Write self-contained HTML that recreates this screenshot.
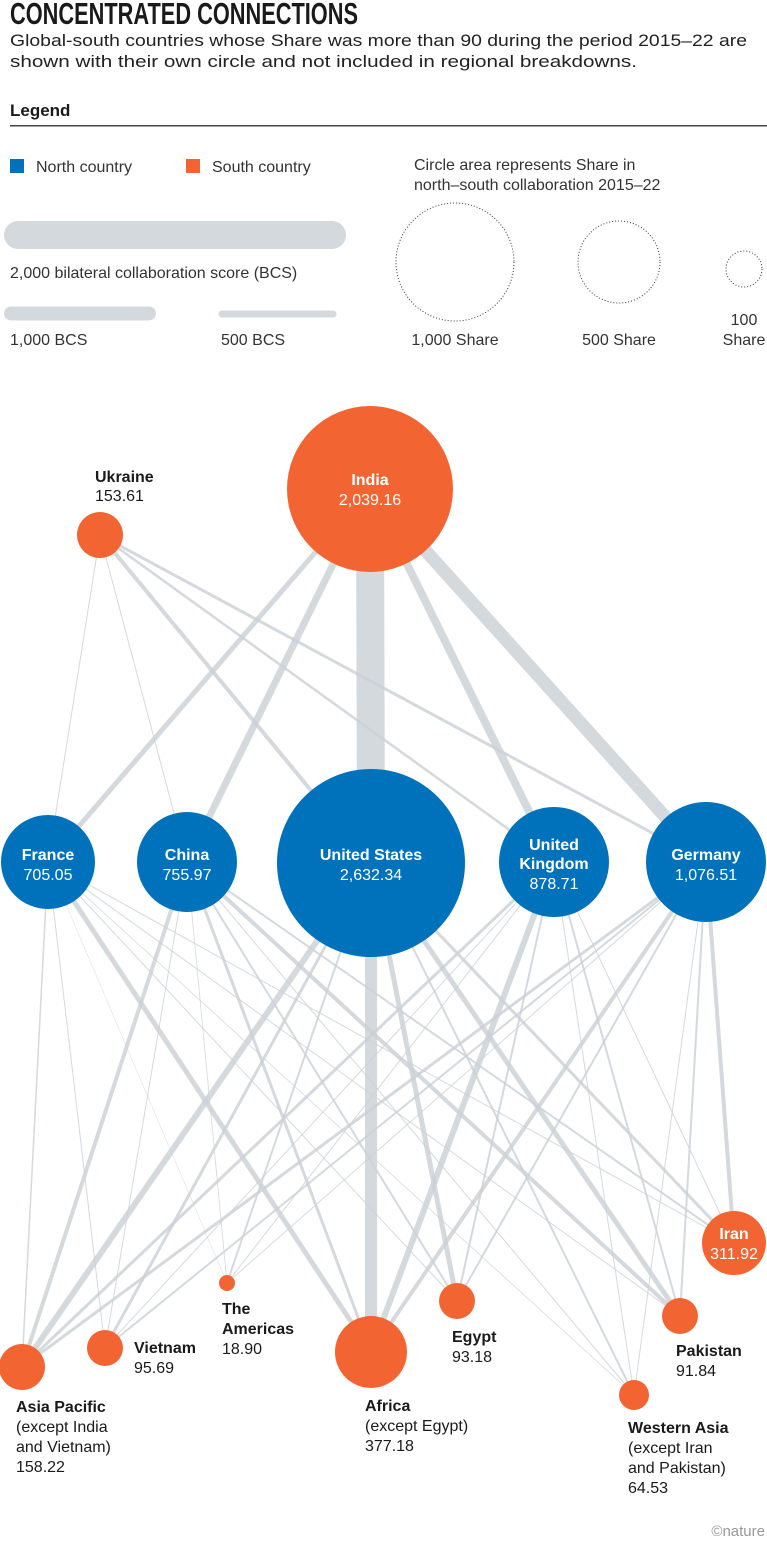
<!DOCTYPE html>
<html><head><meta charset="utf-8"><style>
html,body{margin:0;padding:0;background:#fff;}
svg{display:block;font-family:"Liberation Sans",sans-serif;}
.b{font-weight:bold}
</style></head><body>
<svg width="767" height="1547" viewBox="0 0 767 1547" xmlns="http://www.w3.org/2000/svg">
<text x="10" y="24" font-family="'Liberation Sans Narrow','Liberation Sans',sans-serif" font-weight="bold" font-size="31" textLength="348" lengthAdjust="spacingAndGlyphs" fill="#1a1a1a">CONCENTRATED CONNECTIONS</text>
<text x="10" y="46" font-size="17" fill="#222" textLength="737" lengthAdjust="spacingAndGlyphs">Global-south countries whose Share was more than 90 during the period 2015–22 are</text>
<text x="10" y="67" font-size="17" fill="#222" textLength="627" lengthAdjust="spacingAndGlyphs">shown with their own circle and not included in regional breakdowns.</text>
<text x="10" y="116" font-size="17" class="b" fill="#1a1a1a">Legend</text>
<rect x="10" y="125" width="757" height="1.5" fill="#444"/>
<rect x="10" y="159" width="14" height="14" fill="#0072BC"/>
<text x="36" y="172" font-size="16" fill="#333">North country</text>
<rect x="186" y="159" width="14" height="14" fill="#F26532"/>
<text x="212" y="172" font-size="16" fill="#333">South country</text>
<text x="414" y="170" font-size="16" fill="#333">Circle area represents Share in</text>
<text x="414" y="190" font-size="16" fill="#333">north–south collaboration 2015–22</text>
<line x1="18" y1="235" x2="332" y2="235" stroke="#d4d9dd" stroke-width="28" stroke-linecap="round"/>
<text x="10" y="278" font-size="16" fill="#333">2,000 bilateral collaboration score (BCS)</text>
<line x1="11" y1="313.5" x2="149" y2="313.5" stroke="#d4d9dd" stroke-width="14" stroke-linecap="round"/>
<line x1="222" y1="314" x2="333" y2="314" stroke="#d4d9dd" stroke-width="7" stroke-linecap="round"/>
<text x="10" y="345" font-size="16" fill="#333">1,000 BCS</text>
<text x="221" y="345" font-size="16" fill="#333">500 BCS</text>
<g fill="none" stroke="#333" stroke-width="1" stroke-dasharray="1,2">
<circle cx="455" cy="262" r="59"/><circle cx="619" cy="262" r="41"/><circle cx="744" cy="269" r="18"/></g>
<text x="455" y="345" font-size="16" fill="#333" text-anchor="middle">1,000 Share</text>
<text x="619" y="345" font-size="16" fill="#333" text-anchor="middle">500 Share</text>
<text x="744" y="325" font-size="16" fill="#333" text-anchor="middle">100</text>
<text x="744" y="345" font-size="16" fill="#333" text-anchor="middle">Share</text>

<g stroke="#c9d0d6" stroke-opacity="0.8" stroke-linecap="butt">
<line x1="370" y1="489" x2="371" y2="863" stroke-width="28"/>
<line x1="370" y1="489" x2="706" y2="862" stroke-width="13"/>
<line x1="370" y1="489" x2="554" y2="862" stroke-width="8"/>
<line x1="370" y1="489" x2="187" y2="862" stroke-width="7"/>
<line x1="370" y1="489" x2="48" y2="862" stroke-width="5"/>
<line x1="100" y1="535" x2="48" y2="862" stroke-width="1"/>
<line x1="100" y1="535" x2="187" y2="862" stroke-width="1"/>
<line x1="100" y1="535" x2="371" y2="863" stroke-width="4"/>
<line x1="100" y1="535" x2="554" y2="862" stroke-width="2.5"/>
<line x1="100" y1="535" x2="706" y2="862" stroke-width="3"/>
<line x1="48" y1="862" x2="22" y2="1367" stroke-width="1.5"/>
<line x1="48" y1="862" x2="105" y2="1348" stroke-width="1"/>
<line x1="48" y1="862" x2="371" y2="1352" stroke-width="5"/>
<line x1="48" y1="862" x2="680" y2="1316" stroke-width="1"/>
<line x1="48" y1="862" x2="734" y2="1243" stroke-width="1"/>
<line x1="48" y1="862" x2="457" y2="1301" stroke-width="1"/>
<line x1="48" y1="862" x2="634" y2="1395" stroke-width="0.8"/>
<line x1="48" y1="862" x2="227" y2="1283" stroke-width="0.5"/>
<line x1="187" y1="862" x2="22" y2="1367" stroke-width="4"/>
<line x1="187" y1="862" x2="105" y2="1348" stroke-width="1"/>
<line x1="187" y1="862" x2="371" y2="1352" stroke-width="3"/>
<line x1="187" y1="862" x2="734" y2="1243" stroke-width="2"/>
<line x1="187" y1="862" x2="680" y2="1316" stroke-width="4"/>
<line x1="187" y1="862" x2="457" y2="1301" stroke-width="2"/>
<line x1="187" y1="862" x2="634" y2="1395" stroke-width="1"/>
<line x1="187" y1="862" x2="227" y2="1283" stroke-width="0.8"/>
<line x1="371" y1="863" x2="22" y2="1367" stroke-width="6"/>
<line x1="371" y1="863" x2="105" y2="1348" stroke-width="3"/>
<line x1="371" y1="863" x2="371" y2="1352" stroke-width="12"/>
<line x1="371" y1="863" x2="734" y2="1243" stroke-width="3"/>
<line x1="371" y1="863" x2="680" y2="1316" stroke-width="5"/>
<line x1="371" y1="863" x2="457" y2="1301" stroke-width="5"/>
<line x1="371" y1="863" x2="634" y2="1395" stroke-width="2"/>
<line x1="371" y1="863" x2="227" y2="1283" stroke-width="2"/>
<line x1="554" y1="862" x2="22" y2="1367" stroke-width="3"/>
<line x1="554" y1="862" x2="105" y2="1348" stroke-width="1"/>
<line x1="554" y1="862" x2="371" y2="1352" stroke-width="6"/>
<line x1="554" y1="862" x2="734" y2="1243" stroke-width="1"/>
<line x1="554" y1="862" x2="680" y2="1316" stroke-width="2"/>
<line x1="554" y1="862" x2="457" y2="1301" stroke-width="2"/>
<line x1="554" y1="862" x2="634" y2="1395" stroke-width="1"/>
<line x1="554" y1="862" x2="227" y2="1283" stroke-width="1"/>
<line x1="706" y1="862" x2="22" y2="1367" stroke-width="3"/>
<line x1="706" y1="862" x2="105" y2="1348" stroke-width="2"/>
<line x1="706" y1="862" x2="371" y2="1352" stroke-width="4"/>
<line x1="706" y1="862" x2="734" y2="1243" stroke-width="4"/>
<line x1="706" y1="862" x2="680" y2="1316" stroke-width="2"/>
<line x1="706" y1="862" x2="457" y2="1301" stroke-width="2"/>
<line x1="706" y1="862" x2="634" y2="1395" stroke-width="1"/>
<line x1="706" y1="862" x2="227" y2="1283" stroke-width="1"/>
</g>

<g fill="#F26532">
<circle cx="370" cy="489" r="83"/><circle cx="100" cy="535" r="23"/>
<circle cx="734" cy="1243" r="32"/><circle cx="680" cy="1316" r="18"/>
<circle cx="457" cy="1301" r="18"/><circle cx="227" cy="1283" r="8"/>
<circle cx="105" cy="1348" r="18"/><circle cx="22" cy="1367" r="23"/>
<circle cx="371" cy="1352" r="36"/><circle cx="634" cy="1395" r="15"/>
</g>
<g fill="#0072BC">
<circle cx="48" cy="862" r="47"/><circle cx="187" cy="862" r="50"/>
<circle cx="371" cy="863" r="94"/><circle cx="554" cy="862" r="55"/>
<circle cx="706" cy="862" r="60"/>
</g>
<g fill="#fff" font-size="16" text-anchor="middle">
<text x="370" y="485" class="b">India</text><text x="370" y="505">2,039.16</text>
<text x="48" y="860" class="b">France</text><text x="48" y="880">705.05</text>
<text x="187" y="860" class="b">China</text><text x="187" y="880">755.97</text>
<text x="371" y="860" class="b">United States</text><text x="371" y="880">2,632.34</text>
<text x="554" y="850" class="b">United</text><text x="554" y="869" class="b">Kingdom</text><text x="554" y="889">878.71</text>
<text x="706" y="860" class="b">Germany</text><text x="706" y="880">1,076.51</text>
<text x="734" y="1239" class="b">Iran</text><text x="734" y="1259">311.92</text>
</g>
<g fill="#1a1a1a" font-size="16">
<text x="95" y="482" class="b">Ukraine</text><text x="95" y="501">153.61</text>
<text x="222" y="1314" class="b">The</text><text x="222" y="1334" class="b">Americas</text><text x="222" y="1354">18.90</text>
<text x="134" y="1353" class="b">Vietnam</text><text x="134" y="1373">95.69</text>
<text x="452" y="1342" class="b">Egypt</text><text x="452" y="1362">93.18</text>
<text x="676" y="1356" class="b">Pakistan</text><text x="676" y="1376">91.84</text>
<text x="16" y="1412" class="b">Asia Pacific</text><text x="16" y="1432">(except India</text><text x="16" y="1452">and Vietnam)</text><text x="16" y="1472">158.22</text>
<text x="365" y="1411" class="b">Africa</text><text x="365" y="1431">(except Egypt)</text><text x="365" y="1451">377.18</text>
<text x="628" y="1433" class="b">Western Asia</text><text x="628" y="1453">(except Iran</text><text x="628" y="1473">and Pakistan)</text><text x="628" y="1493">64.53</text>
</g>
<text x="765" y="1536" font-size="15" fill="#999" text-anchor="end">©nature</text>
</svg>
</body></html>
